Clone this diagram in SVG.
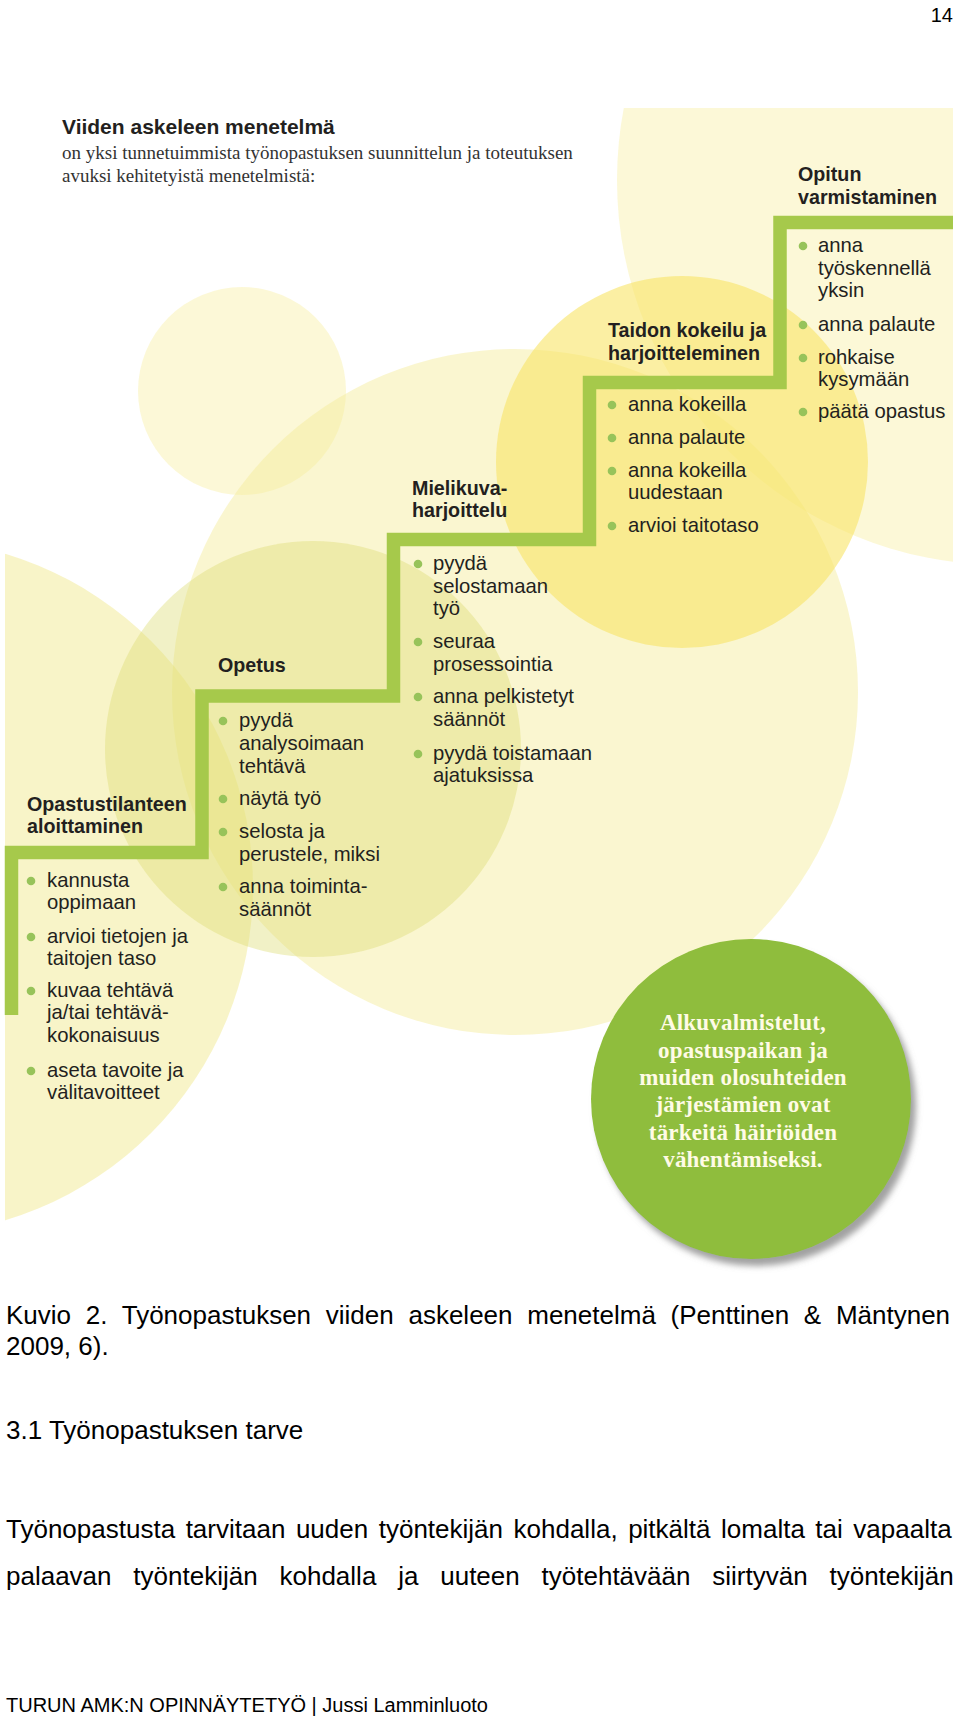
<svg xmlns="http://www.w3.org/2000/svg" width="960" height="1721" viewBox="0 0 960 1721">
<defs>
<style>
.h{font-family:"Liberation Sans",Arial,sans-serif;font-weight:bold;font-size:19.7px;fill:#231f20}
.i{font-family:"Liberation Sans",Arial,sans-serif;font-size:20.3px;fill:#231f20}
.b{fill:#97c35a}
.body{font-family:"Liberation Sans",Arial,sans-serif;font-size:26px;fill:#000}
.gt{font-family:"Liberation Serif","Times New Roman",serif;font-weight:bold;font-size:23px;letter-spacing:0.2px;fill:#fffbe6;text-anchor:middle}
</style>
<clipPath id="clip"><rect x="5" y="108" width="948" height="1200"/></clipPath>
<filter id="sh" x="-20%" y="-20%" width="140%" height="140%">
<feGaussianBlur in="SourceAlpha" stdDeviation="3"/>
<feOffset dx="5" dy="7" result="o"/>
<feFlood flood-color="#8a8a8a" flood-opacity="0.8"/>
<feComposite in2="o" operator="in"/>
<feMerge><feMergeNode/><feMergeNode in="SourceGraphic"/></feMerge>
</filter>
</defs>
<rect width="960" height="1721" fill="#fff"/>
<text x="953" y="22" text-anchor="end" font-family="Liberation Sans, Arial, sans-serif" font-size="20">14</text>

<g id="background" clip-path="url(#clip)">
<circle cx="1002" cy="180" r="385" fill="#f7efa0" fill-opacity="0.42"/>
<circle cx="242" cy="391" r="104" fill="#f7efa0" fill-opacity="0.42"/>
<circle cx="515" cy="692" r="343" fill="#f5ec96" fill-opacity="0.45"/>
<circle cx="682" cy="462" r="186" fill="#f9e466" fill-opacity="0.6"/>
<circle cx="-95" cy="887" r="348" fill="#f0e684" fill-opacity="0.45"/>
<circle cx="313" cy="749" r="208" fill="#dcdc70" fill-opacity="0.4"/>
</g>

<g id="intro">
<text x="62" y="134" font-family="Liberation Sans, Arial, sans-serif" font-weight="bold" font-size="21" fill="#231f20">Viiden askeleen menetelmä</text>
<text x="62" y="159" font-family="Liberation Serif, Times New Roman, serif" font-size="19" fill="#333">on yksi tunnetuimmista työnopastuksen suunnittelun ja toteutuksen</text>
<text x="62" y="182" font-family="Liberation Serif, Times New Roman, serif" font-size="19" fill="#333">avuksi kehitetyistä menetelmistä:</text>
</g>

<g id="connectors">
<polyline points="11.5,1015 11.5,852.5 202,852.5 202,696 393.5,696 393.5,539.5 589.5,539.5 589.5,382.5 780,382.5 780,222.5 953,222.5" fill="none" stroke="#a6c94b" stroke-width="13.5" stroke-linejoin="miter"/>
</g>

<g id="step1">
<text class="h" x="27" y="811">Opastustilanteen<tspan x="27" dy="22">aloittaminen</tspan></text>
<circle class="b" cx="31" cy="881" r="4.3"/>
<text class="i" x="47" y="887">kannusta<tspan x="47" dy="22.3">oppimaan</tspan></text>
<circle class="b" cx="31" cy="937" r="4.3"/>
<text class="i" x="47" y="943">arvioi tietojen ja<tspan x="47" dy="22.3">taitojen taso</tspan></text>
<circle class="b" cx="31" cy="991" r="4.3"/>
<text class="i" x="47" y="997">kuvaa tehtävä<tspan x="47" dy="22.3">ja/tai tehtävä-</tspan><tspan x="47" dy="22.3">kokonaisuus</tspan></text>
<circle class="b" cx="31" cy="1071" r="4.3"/>
<text class="i" x="47" y="1077">aseta tavoite ja<tspan x="47" dy="22.3">välitavoitteet</tspan></text>
</g>

<g id="step2">
<text class="h" x="218" y="672">Opetus</text>
<circle class="b" cx="223" cy="721" r="4.3"/>
<text class="i" x="239" y="727">pyydä<tspan x="239" dy="22.8">analysoimaan</tspan><tspan x="239" dy="22.8">tehtävä</tspan></text>
<circle class="b" cx="223" cy="799" r="4.3"/>
<text class="i" x="239" y="805">näytä työ</text>
<circle class="b" cx="223" cy="832" r="4.3"/>
<text class="i" x="239" y="838">selosta ja<tspan x="239" dy="22.5">perustele, miksi</tspan></text>
<circle class="b" cx="223" cy="887" r="4.3"/>
<text class="i" x="239" y="893">anna toiminta-<tspan x="239" dy="22.8">säännöt</tspan></text>
</g>

<g id="step3">
<text class="h" x="412" y="495">Mielikuva-<tspan x="412" dy="22">harjoittelu</tspan></text>
<circle class="b" cx="418" cy="564" r="4.3"/>
<text class="i" x="433" y="570">pyydä<tspan x="433" dy="22.5">selostamaan</tspan><tspan x="433" dy="22.5">työ</tspan></text>
<circle class="b" cx="418" cy="642" r="4.3"/>
<text class="i" x="433" y="648">seuraa<tspan x="433" dy="22.8">prosessointia</tspan></text>
<circle class="b" cx="418" cy="697" r="4.3"/>
<text class="i" x="433" y="703">anna pelkistetyt<tspan x="433" dy="23">säännöt</tspan></text>
<circle class="b" cx="418" cy="754" r="4.3"/>
<text class="i" x="433" y="760">pyydä toistamaan<tspan x="433" dy="21.5">ajatuksissa</tspan></text>
</g>

<g id="step4">
<text class="h" x="608" y="337">Taidon kokeilu ja<tspan x="608" dy="23">harjoitteleminen</tspan></text>
<circle class="b" cx="612" cy="405" r="4.3"/>
<text class="i" x="628" y="411">anna kokeilla</text>
<circle class="b" cx="612" cy="438" r="4.3"/>
<text class="i" x="628" y="444">anna palaute</text>
<circle class="b" cx="612" cy="471" r="4.3"/>
<text class="i" x="628" y="477">anna kokeilla<tspan x="628" dy="21.5">uudestaan</tspan></text>
<circle class="b" cx="612" cy="526" r="4.3"/>
<text class="i" x="628" y="532">arvioi taitotaso</text>
</g>

<g id="step5">
<text class="h" x="798" y="181">Opitun<tspan x="798" dy="23">varmistaminen</tspan></text>
<circle class="b" cx="803" cy="246" r="4.3"/>
<text class="i" x="818" y="252">anna<tspan x="818" dy="22.5">työskennellä</tspan><tspan x="818" dy="22.5">yksin</tspan></text>
<circle class="b" cx="803" cy="325" r="4.3"/>
<text class="i" x="818" y="331">anna palaute</text>
<circle class="b" cx="803" cy="358" r="4.3"/>
<text class="i" x="818" y="364">rohkaise<tspan x="818" dy="21.5">kysymään</tspan></text>
<circle class="b" cx="803" cy="412" r="4.3"/>
<text class="i" x="818" y="418">päätä opastus</text>
</g>

<g id="note">
<circle cx="751" cy="1099" r="160" fill="#8fbd3c" filter="url(#sh)"/>
<text class="gt" x="743" y="1030">Alkuvalmistelut,</text>
<text class="gt" x="743" y="1058">opastuspaikan ja</text>
<text class="gt" x="743" y="1085">muiden olosuhteiden</text>
<text class="gt" x="743" y="1112">järjestämien ovat</text>
<text class="gt" x="743" y="1140">tärkeitä häiriöiden</text>
<text class="gt" x="743" y="1167">vähentämiseksi.</text>
</g>

<g id="page-text">
<text class="body" x="6" y="1324" word-spacing="7.5">Kuvio 2. Työnopastuksen viiden askeleen menetelmä (Penttinen &amp; Mäntynen</text>
<text class="body" x="6" y="1355">2009, 6).</text>
<text class="body" x="6" y="1439" font-size="27">3.1 Työnopastuksen tarve</text>
<text class="body" x="6" y="1538" word-spacing="3.3">Työnopastusta tarvitaan uuden työntekijän kohdalla, pitkältä lomalta tai vapaalta</text>
<text class="body" x="6" y="1585" word-spacing="14.6">palaavan työntekijän kohdalla ja uuteen työtehtävään siirtyvän työntekijän</text>
<text x="6" y="1712" font-family="Liberation Sans, Arial, sans-serif" font-size="20">TURUN AMK:N OPINNÄYTETYÖ | Jussi Lamminluoto</text>
</g>
</svg>
